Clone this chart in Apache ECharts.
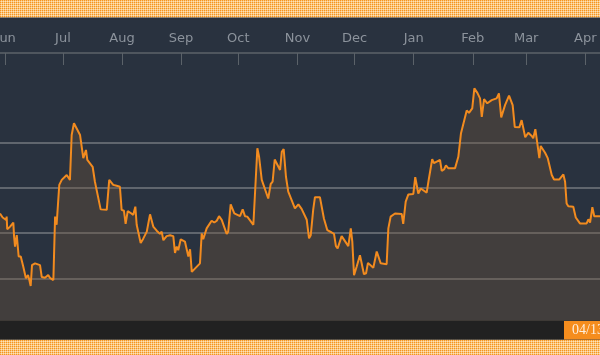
<!DOCTYPE html>
<html>
<head>
<meta charset="utf-8">
<script src="https://cdn.jsdelivr.net/npm/echarts@6/dist/echarts.min.js"></script>
<style>
  html, body { margin: 0; padding: 0; }
  #chart { width: 600px; height: 355px; }
</style>
</head>
<body>
<div id="chart"></div>
<script>
// day offsets from 1 June (first of the visible months) and closing values
var days = [
  -3.0,-1.6,-0.9,0.2,0.5,0.8,2.3,4.0,4.4,4.9,5.8,6.8,7.9,9.2,10.6,11.7,12.4,13.1,13.8,15.4,18.0,18.9,20.6,21.5,22.3,23.2,25.0,25.9,26.7,28.1,29.4,32.0,33.7,34.6,35.8,39.0,39.9,40.7,42.1,42.8,45.6,46.8,49.8,53.0,54.3,55.2,56.4,58.2,59.9,
  60.8,62.0,62.9,64.0,65.2,66.9,68.0,68.7,69.5,70.8,72.2,74.0,75.7,77.4,79.2,80.9,81.8,82.7,84.4,86.2,87.9,88.8,89.7,90.5,91.8,94.0,94.9,95.8,96.7,97.6,98.4,101.9,102.8,103.6,105.4,108.0,109.4,110.7,111.9,113.3,115.9,116.7,118.0,118.8,119.9,122.9,
  124.3,125.5,126.7,129.9,130.9,132.0,132.9,134.3,137.7,139.0,140.0,141.1,143.9,144.8,145.8,147.0,148.2,151.7,153.5,155.2,157.9,159.1,160.0,161.3,162.2,164.8,166.9,167.8,168.7,171.0,172.2,173.2,174.1,176.2,179.7,181.0,181.8,182.7,184.1,185.8,
  186.7,187.9,189.0,190.0,192.8,194.6,196.7,199.8,200.7,201.9,204.2,207.7,208.5,209.8,211.2,213.8,214.8,216.4,217.7,220.8,221.9,222.9,223.7,224.6,227.8,228.7,229.9,230.9,232.1,235.7,237.4,238.8,241.8,243.0,244.7,245.8,247.4,248.8,
  249.7,250.9,252.6,254.9,257.5,258.7,259.9,261.9,264.0,265.9,267.0,269.4,270.6,272.5,274.1,275.9,276.7,277.8,279.9,280.6,282.9,284.3,286.4,287.6,290.4,292.5,293.4,294.2,295.1,297.7,299.0,300.0,301.2,304.7,305.6,306.5,307.7,308.7,311.7
];
var values = [
  24.3,23.4,23.7,22.9,23.6,20.8,21.4,22.3,19.2,17.0,19.5,14.8,14.8,12.6,10.0,10.7,9.6,8.3,12.9,13.3,12.9,10.3,10.1,10.5,10.7,10.1,9.6,23.6,21.8,30.6,31.7,32.8,31.7,41.6,44.2,41.6,42.0,36.5,38.3,36.1,34.6,31.3,25.2,25.1,31.7,31.7,30.6,30.4,30.2,
  25.1,24.9,22.0,24.8,24.5,24.0,25.8,21.8,21.4,17.8,18.8,20.3,24.1,21.4,20.5,19.8,20.3,18.4,19.3,19.5,19.3,15.6,17.0,16.2,18.6,18.1,18.1,14.8,16.4,11.4,11.4,13.3,19.9,18.6,21.0,22.7,22.3,22.7,23.7,22.9,19.8,20.3,26.3,26.7,24.3,23.7,
  25.2,23.7,23.6,21.8,21.8,38.7,36.8,31.7,27.6,30.8,31.3,36.2,33.9,37.9,38.5,32.4,29.1,25.4,26.3,25.3,22.9,18.8,19.5,25.2,27.9,27.9,23.2,22.9,20.6,20.1,19.8,17.1,16.6,19.3,17.1,21.0,18.1,10.7,12.6,15.1,
  13.3,10.9,11.1,13.4,12.3,15.9,13.3,13.1,21.0,23.6,24.3,24.2,22.0,26.9,28.5,28.6,32.3,28.7,29.8,28.9,31.8,31.8,36.3,35.4,36.1,33.7,34.0,34.9,34.3,34.3,36.8,42.0,47.0,46.5,47.5,51.9,50.9,49.7,
  45.6,49.5,48.6,49.3,49.7,50.8,45.5,48.2,50.3,48.2,43.4,43.3,44.9,41.1,42.1,41.4,40.9,42.9,36.5,39.2,37.7,36.5,32.8,31.8,31.8,32.9,31.3,26.5,25.9,25.8,23.4,23.2,22.1,22.1,23.0,22.3,25.7,23.7,23.7
];
var lastLabel = '04/13';

var DAY = 86400000;
var base = new Date(2018, 5, 1).getTime();

var seriesData = [];
for (var i = 0; i < days.length; i++) {
    seriesData.push([base + days[i] * DAY, values[i]]);
}

// dotted yellow strip pattern
var pat = document.createElement('canvas');
pat.width = 2; pat.height = 2;
var pctx = pat.getContext('2d');
pctx.fillStyle = '#fde3b8'; pctx.fillRect(0, 0, 2, 2);
pctx.fillStyle = '#f5951f'; pctx.fillRect(0, 0, 1, 1);
pctx.fillStyle = '#fac47c'; pctx.fillRect(1, 0, 1, 1); pctx.fillRect(0, 1, 1, 1);

var myChart = echarts.init(document.getElementById('chart'));

var gridColor = 'rgba(205,205,205,0.45)';

option = {
    backgroundColor: '#29323f',
    animation: false,
    grid: {
        left: 0,
        right: 0,
        top: 53,
        bottom: 31.4,
        outerBoundsMode: 'none',
        containLabel: false
    },
    xAxis: {
        type: 'time',
        position: 'top',
        min: base - 2.99 * DAY,
        max: base + 311.71 * DAY,
        minInterval: 28 * DAY,
        maxInterval: 31 * DAY,
        axisLine: { onZero: false, lineStyle: { color: '#4f565e', width: 2 } },
        axisTick: { show: true, inside: true, length: 12, lineStyle: { color: '#5b6269', width: 1 } },
        axisLabel: {
            formatter: '{MMM}',
            color: '#8c939c',
            fontFamily: 'DejaVu Sans',
            fontSize: 13,
            margin: 8,
            showMinLabel: false,
            showMaxLabel: false,
            hideOverlap: false
        },
        splitLine: { show: false }
    },
    yAxis: {
        type: 'value',
        min: 0,
        max: 59.7,
        interval: 10,
        axisLine: { show: false },
        axisTick: { show: false },
        axisLabel: { show: false },
        splitLine: {
            show: true,
            lineStyle: {
                color: ['transparent', gridColor, gridColor, gridColor, gridColor, 'transparent', 'transparent'],
                width: 1.5
            }
        }
    },
    series: [{
        type: 'line',
        data: seriesData,
        showSymbol: false,
        smooth: false,
        lineStyle: { color: '#f28b1f', width: 2 },
        areaStyle: { color: 'rgba(112,86,60,0.5)', origin: 'start' }
    }],
    graphic: [
        { type: 'rect', z: 100, shape: { x: 0, y: 0, width: 600, height: 17.5 }, style: { fill: { image: pat, repeat: 'repeat' } } },
        { type: 'rect', z: 100, shape: { x: 0, y: 339.5, width: 600, height: 16 }, style: { fill: { image: pat, repeat: 'repeat' } } },
        { type: 'rect', z: 100, shape: { x: 0, y: 321, width: 600, height: 18.5 }, style: { fill: '#212121' } },
        { type: 'rect', z: 100, shape: { x: 0, y: 320, width: 600, height: 1 }, style: { fill: '#3d3935' } },
        { type: 'rect', z: 101, shape: { x: 564, y: 321, width: 36, height: 18.5 }, style: { fill: '#f58d1e' } },
        { type: 'text', z: 102, x: 572, y: 330.5, style: { text: lastLabel, fill: '#fdeedd', font: '14px "Liberation Serif"', verticalAlign: 'middle' } }
    ]
};

myChart.setOption(option);
</script>
</body>
</html>
